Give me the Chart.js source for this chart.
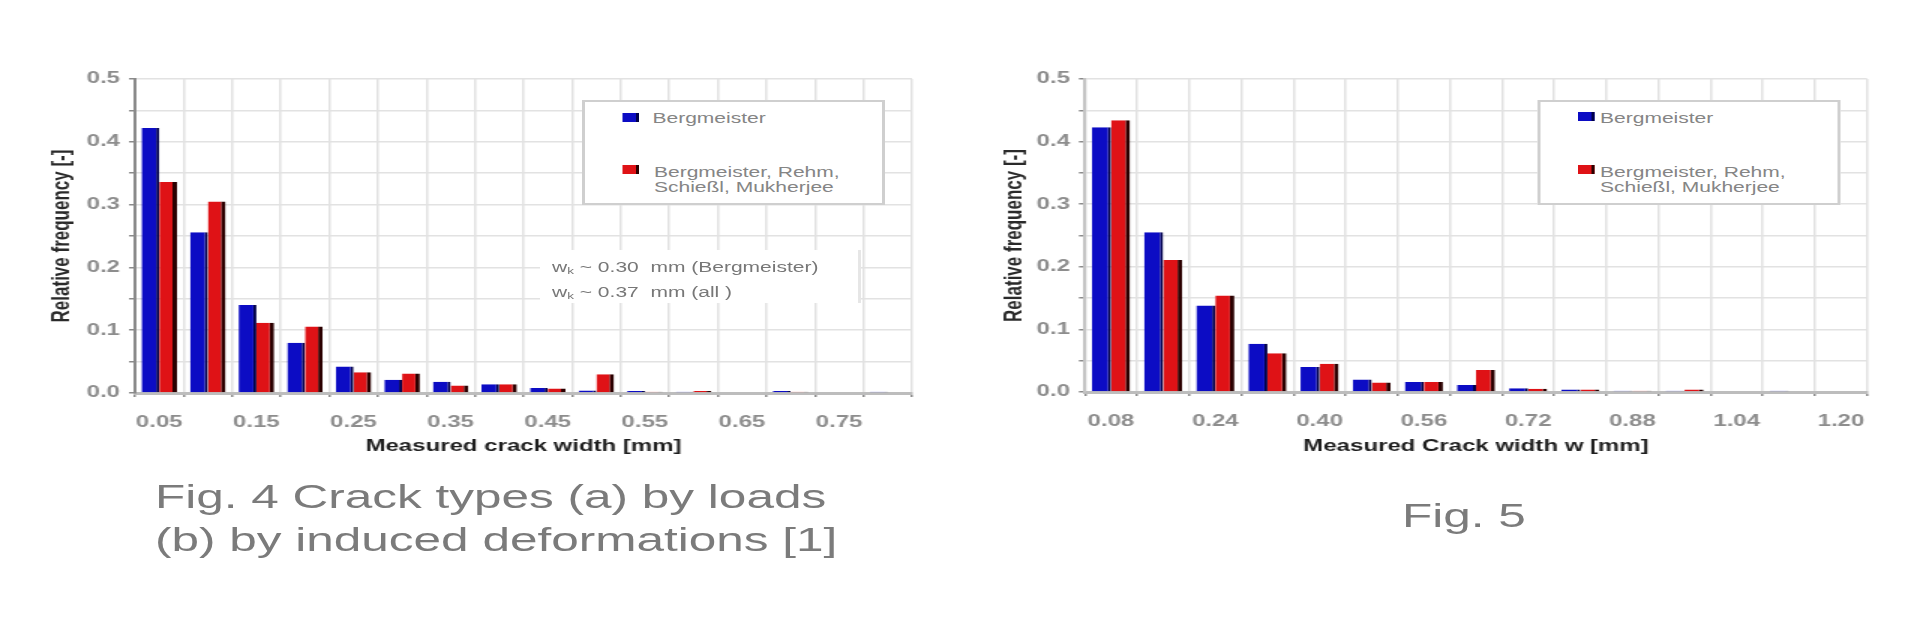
<!DOCTYPE html>
<html><head><meta charset="utf-8">
<script src="https://cdn.jsdelivr.net/npm/chart.js@4.4.1/dist/chart.umd.min.js"></script>
<style>
html,body{margin:0;padding:0;background:#fff;width:1920px;height:640px;overflow:hidden;}
#stage{position:absolute;left:0;top:0;width:1280px;height:640px;transform:scaleX(1.5);transform-origin:0 0;font-family:"Liberation Sans",Arial,sans-serif;filter:blur(0.4px);}
canvas{position:absolute;top:0;}
#c1{left:0}
#c2{left:640px}
.cap{position:absolute;font-size:33px;line-height:33px;color:#7b7b7b;white-space:nowrap;}
.leg{position:absolute;border:2px solid #cfcfcf;background:#fff;box-sizing:border-box;}
.lt{position:absolute;font-size:14px;line-height:15px;color:#858585;white-space:nowrap;}
.sw{position:absolute;width:11px;height:9px;}
.swb{background:#0c0cc4;box-shadow:inset -2px 0 #00004a;}
.swr{background:#df1216;box-shadow:inset -2px 0 #2b0000;}
.note{position:absolute;background:#fff;border-right:2px solid #e6e6e6;}
.nt{position:absolute;font-size:14px;line-height:21px;color:#777;white-space:nowrap;}
.nt sub{font-size:9px;vertical-align:-2px;}
</style>
</head><body>
<div id="stage">
<canvas id="c1" width="640" height="470"></canvas>
<canvas id="c2" width="640" height="470"></canvas>

<div class="leg" style="left:388px;top:100px;width:202px;height:105px;"></div>
<div class="sw swb" style="left:415px;top:113px;"></div>
<div class="lt" style="left:435px;top:111px;">Bergmeister</div>
<div class="sw swr" style="left:415px;top:165px;"></div>
<div class="lt" style="left:436px;top:165px;">Bergmeister, Rehm,<br>Schießl, Mukherjee</div>

<div class="note" style="left:360px;top:250px;width:212px;height:53px;"></div>
<div class="nt" style="left:368px;top:257px;">w<sub>k</sub> ~ 0.30&nbsp; mm (Bergmeister)<br>w<sub>k</sub> ~ 0.37&nbsp; mm (all )</div>

<div class="leg" style="left:1024.7px;top:100px;width:202px;height:105px;"></div>
<div class="sw swb" style="left:1052px;top:112px;"></div>
<div class="lt" style="left:1066.7px;top:111px;">Bergmeister</div>
<div class="sw swr" style="left:1052px;top:165px;"></div>
<div class="lt" style="left:1066.7px;top:165px;">Bergmeister, Rehm,<br>Schießl, Mukherjee</div>

<div class="cap" style="left:103.3px;top:480px;">Fig. 4 Crack types (a) by loads</div>
<div class="cap" style="left:103.3px;top:523px;">(b) by induced deformations [1]</div>
<div class="cap" style="left:934.7px;top:499px;">Fig. 5</div>
</div>
<script>
// ---- data ----
const categories1 = ['0.05','0.10','0.15','0.20','0.25','0.30','0.35','0.40','0.45','0.50','0.55','0.60','0.65','0.70','0.75','0.80'];
const bergmeister1 = [0.422,0.256,0.140,0.080,0.042,0.021,0.018,0.014,0.008,0.004,0.003,0.002,0,0.003,0,0.002];
const all1 = [0.336,0.305,0.112,0.106,0.033,0.031,0.012,0.014,0.007,0.030,0.002,0.003,0,0.002,0,0.001];

const categories2 = ['0.08','0.16','0.24','0.32','0.40','0.48','0.56','0.64','0.72','0.80','0.88','0.96','1.04','1.12','1.20'];
const bergmeister2 = [0.423,0.255,0.138,0.077,0.040,0.020,0.016,0.011,0.006,0.004,0.002,0.002,0,0.002,0];
const all2 = [0.434,0.211,0.154,0.062,0.045,0.015,0.016,0.035,0.005,0.004,0.002,0.004,0,0.001,0];

const yTickLabels = ['0.0','0.1','0.2','0.3','0.4','0.5'];
const seriesNames = ['Bergmeister','Bergmeister, Rehm, Schießl, Mukherjee'];

const FF = '"Liberation Sans", Arial, sans-serif';

function build(id, cats, s1, s2, geo) {
  new Chart(document.getElementById(id), {
    type: 'bar',
    data: {
      labels: cats,
      datasets: [
        {label: seriesNames[0], data: s1, backgroundColor: '#0c0cc4', borderColor: '#00004a',
         borderWidth: {top:0,left:0,bottom:0,right:2}, categoryPercentage: 0.73, barPercentage: 1},
        {label: seriesNames[1], data: s2, backgroundColor: '#df1216', borderColor: '#2b0000',
         borderWidth: {top:0,left:0,bottom:0,right:3}, categoryPercentage: 0.73, barPercentage: 1}
      ]
    },
    options: {
      responsive: false, animation: false, devicePixelRatio: 1,
      layout: {padding: {left: 0, top: 79, right: geo.right, bottom: 0}},
      plugins: {legend: {display: false}, tooltip: {enabled: false}},
      scales: {
        x: {
          grid: {offset: true, color: '#e2e2e2', lineWidth: 1.5, tickLength: 4, tickColor: '#8a8a8a', tickWidth: 1.5},
          border: {color: '#bdbdbd', width: 3},
          ticks: {autoSkip: false, maxRotation: 0, padding: 16, color: '#8d8d8d',
                  font: {family: FF, size: 16, weight: 'bold'},
                  callback: (v, i) => (i % 2 === 0 ? cats[i] : '')},
          title: {display: true, text: geo.xTitle, color: '#1e1e1e',
                  font: {family: FF, size: 16, weight: 'bold'}, padding: {top: 0, bottom: 14}},
          afterFit: s => { s.height = geo.xh; }
        },
        y: {
          min: 0, max: 0.5,
          grid: {color: '#e2e2e2', lineWidth: 1.5, tickLength: 4, tickColor: '#8a8a8a'},
          border: {color: geo.yBorder, width: 2},
          ticks: {stepSize: 0.05, autoSkip: false, padding: 6, color: '#8d8d8d',
                  font: {family: FF, size: 16, weight: 'bold'},
                  callback: (v, i) => (i % 2 === 0 ? yTickLabels[i / 2] : '')},
          title: {display: true, text: 'Relative frequency [-]', color: '#2a2a2a',
                  font: {family: FF, size: 17, weight: 'bold'}, padding: {top: geo.ytp, bottom: 0}},
          afterFit: s => { s.width = geo.yw; }
        }
      }
    }
  });
}

build('c1', categories1, bergmeister1, all1,
  {right: 32, xh: 77, yw: 90, ytp: 31.1, yBorder: '#8a8a8a', xTitle: 'Measured crack width [mm]'});
build('c2', categories2, bergmeister2, all2,
  {right: 35.3, xh: 78, yw: 83.3, ytp: 26.5, yBorder: '#c4c4c4', xTitle: 'Measured Crack width w [mm]'});
</script>
</body></html>
